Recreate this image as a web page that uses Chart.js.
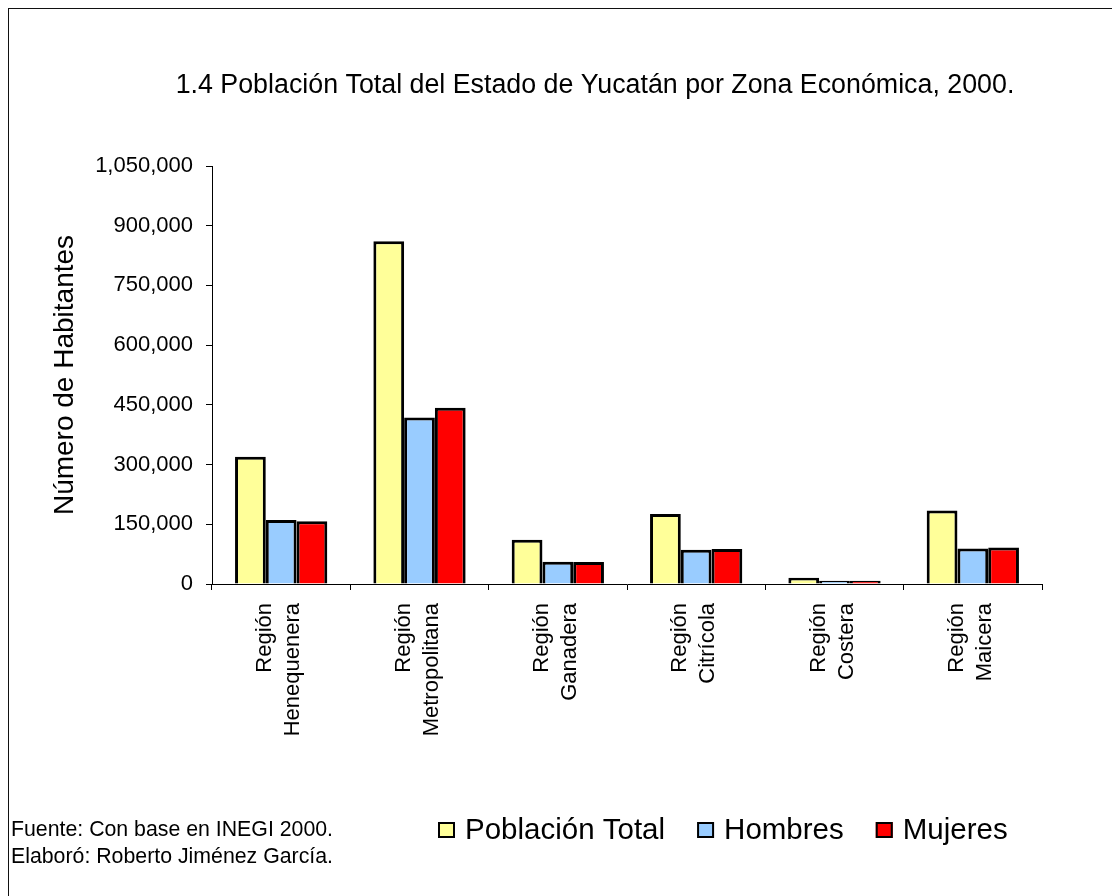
<!DOCTYPE html>
<html>
<head>
<meta charset="utf-8">
<script src="https://cdn.jsdelivr.net/npm/chart.js@4.4.0/dist/chart.umd.min.js"></script>
<style>
    body { margin: 0; background: #fff; overflow: hidden; }
    #frame {
        position: absolute;
        left: 8px;
        top: 8px;
        width: 1200px;
        height: 1000px;
        border: 1px solid #111;
    }
    #chart { position: absolute; left: 0; top: 0; }
</style>
</head>
<body>
<div id="frame"></div>
<canvas id="chart" width="1112" height="896"></canvas>
<script>
const FONT = '"Liberation Sans", Arial, sans-serif'

const regiones = [
    ['Región', 'Henequenera'],
    ['Región', 'Metropolitana'],
    ['Región', 'Ganadera'],
    ['Región', 'Citrícola'],
    ['Región', 'Costera'],
    ['Región', 'Maicera'],
]
const poblacionTotal = [319500, 861000, 111000, 176000, 16000, 184500]
const hombres = [161000, 418000, 56000, 86000, 8000, 89000]
const mujeres = [157500, 443000, 55500, 88000, 8000, 92000]
const seriesNames = ['Población Total', 'Hombres', 'Mujeres']
const seriesColors = ['#FFFF99', '#99CCFF', '#FF0000']

const titulo =
    '1.4 Población Total del Estado de Yucatán por Zona Económica, 2000.'
const notas = [
    'Fuente: Con base en INEGI 2000.',
    'Elaboró: Roberto Jiménez García.',
]

// title, footnotes and legend sit off-centre in the original, so draw them here
const decorPlugin = {
    id: 'decor',
    afterDraw(chart) {
        const ctx = chart.ctx
        ctx.save()
        ctx.fillStyle = '#000'
        ctx.textBaseline = 'middle'

        ctx.font = '26.8px ' + FONT
        ctx.textAlign = 'center'
        ctx.fillText(titulo, 595, 86)

        ctx.font = '21.3px ' + FONT
        ctx.textAlign = 'left'
        notas.forEach((t, i) => ctx.fillText(t, 11, 830 + i * 27))

        ctx.font = '29.5px ' + FONT
        let x = 438
        chart.data.datasets.forEach((ds) => {
            ctx.fillStyle = ds.backgroundColor
            ctx.fillRect(x, 822, 17, 16)
            ctx.strokeStyle = '#000'
            ctx.lineWidth = 2
            ctx.strokeRect(x + 1, 823, 15, 14)
            ctx.fillStyle = '#000'
            ctx.fillText(ds.label, x + 27, 831)
            x += 27 + ctx.measureText(ds.label).width + 32
        })
        ctx.restore()
    },
}

const datasets = [poblacionTotal, hombres, mujeres].map((data, i) => ({
    label: seriesNames[i],
    data: data,
    backgroundColor: seriesColors[i],
    borderColor: '#000',
    borderWidth: 3,
    categoryPercentage: 0.667,
    barPercentage: 1,
}))

new Chart(document.getElementById('chart').getContext('2d'), {
    type: 'bar',
    data: { labels: regiones, datasets: datasets },
    plugins: [decorPlugin],
    options: {
        responsive: false,
        animation: false,
        layout: { padding: { top: 166, right: 70, bottom: 112, left: 0 } },
        plugins: {
            legend: { display: false },
            title: { display: false },
            tooltip: { enabled: false },
        },
        scales: {
            x: {
                afterFit: (s) => {
                    s.height = 200
                },
                grid: {
                    display: true,
                    drawOnChartArea: false,
                    drawTicks: true,
                    tickLength: 6,
                    color: '#000',
                },
                border: { color: '#000', width: 1 },
                ticks: {
                    minRotation: 90,
                    maxRotation: 90,
                    autoSkip: false,
                    padding: 13,
                    labelOffset: -16,
                    color: '#000',
                    font: { family: FONT, size: 22, lineHeight: 1.27 },
                },
            },
            y: {
                min: 0,
                max: 1050000,
                afterFit: (s) => {
                    s.width = 212
                },
                grid: {
                    display: true,
                    drawOnChartArea: false,
                    drawTicks: true,
                    tickLength: 6,
                    color: '#000',
                },
                border: { color: '#000', width: 1 },
                ticks: {
                    stepSize: 150000,
                    padding: 13,
                    color: '#000',
                    font: { family: FONT, size: 22 },
                    callback: (v) => v.toLocaleString('en-US'),
                },
                title: {
                    display: true,
                    text: 'Número de Habitantes',
                    color: '#000',
                    padding: { top: 48, bottom: 0 },
                    font: { family: FONT, size: 28 },
                },
            },
        },
    },
})
</script>
</body>
</html>
